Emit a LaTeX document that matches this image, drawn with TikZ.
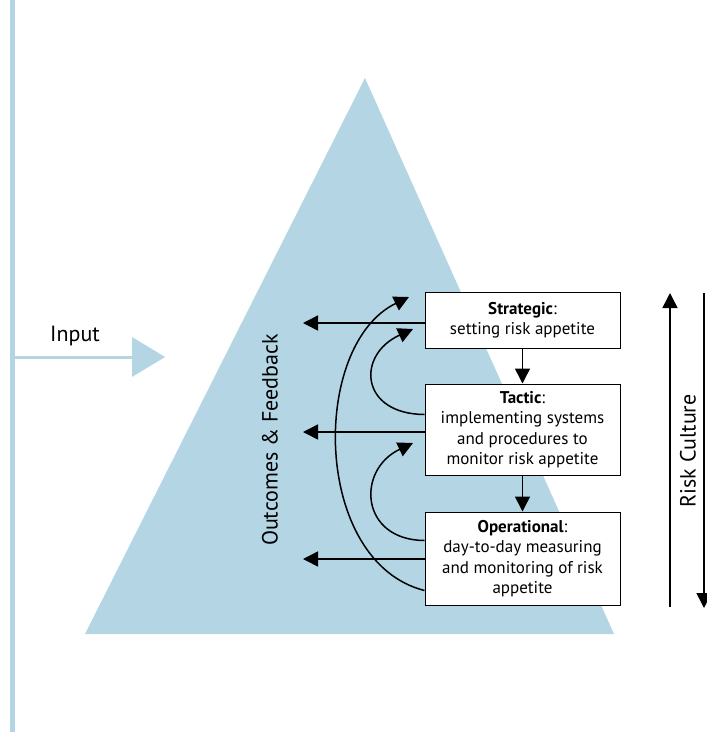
\documentclass[tikz,border=0pt]{standalone}
\usepackage{fontspec}
\setmainfont{PT Sans}
\usetikzlibrary{arrows.meta,calc}
\definecolor{pyr}{RGB}{179,213,228}
\tikzset{
  boxnode/.style={draw=black,line width=1pt,fill=white,minimum width=195pt,align=center,inner sep=0pt,
    font=\fontsize{17}{20.5}\selectfont},
  arr/.style={line width=1.5pt,-{Triangle[length=15pt,width=15pt]}},
  lbl/.style={font=\fontsize{22}{26}\selectfont}
}
\begin{document}
\begin{tikzpicture}[x=1pt,y=-1pt]
\useasboundingbox (0,0) rectangle (707,732);
% left vertical line and input
\draw[pyr,line width=5pt] (12,0) -- (12,732);
\draw[pyr,line width=3pt] (12,357) -- (134,357);
\fill[pyr] (132,337) -- (165,357) -- (132,377) -- cycle;
\node[lbl,anchor=base] (inp) at (75,341) {Input};
% pyramid
\fill[pyr] (365,78) -- (614,634) -- (85,634) -- cycle;
% boxes
\node[boxnode,minimum height=56pt] (str) at (522.5,320) {\textbf{Strategic}:\\setting risk appetite};
\node[boxnode,minimum height=91pt] (tac) at (522.5,429.5) {\textbf{Tactic}:\\implementing systems\\and procedures to\\monitor risk appetite};
\node[boxnode,minimum height=93pt] (ope) at (522.5,558.5) {\textbf{Operational}:\\day-to-day measuring\\and monitoring of risk\\appetite};
% down arrows
\draw[arr] (str.south) -- (tac.north);
\draw[arr] (tac.south) -- (ope.north);
% left arrows
\coordinate (o1) at (303,323);
\coordinate (o2) at (303,432);
\coordinate (o3) at (303,559);
\draw[arr] (str.west |- o1) -- (o1);
\draw[arr] (tac.west |- o2) -- (o2);
\draw[arr] (ope.west |- o3) -- (o3);
% feedback curves
\coordinate (c1) at (413,329);
\coordinate (c2) at (413,443);
\coordinate (c3) at (409,297);
\draw[arr] ($(tac.west)+(0,-15)$) .. controls (360,414) and (356,355) .. (c1);
\draw[arr] ($(ope.west)+(0,-18)$) .. controls (360,540) and (356,470) .. (c2);
\draw[arr] ($(ope.west)+(0,32)$) .. controls (312,562) and (310,345) .. (c3);
% labels
\node[lbl,rotate=90] (ofb) at (270,440) {Outcomes \& Feedback};
\coordinate (ru1) at (670,293);
\coordinate (ru0) at (670,607);
\coordinate (rd0) at (704,293);
\coordinate (rd1) at (704,608);
\draw[arr] (ru0) -- (ru1);
\draw[arr] (rd0) -- (rd1);
\node[lbl,rotate=90] (rc) at (688,451) {Risk Culture};
\end{tikzpicture}
\end{document}
